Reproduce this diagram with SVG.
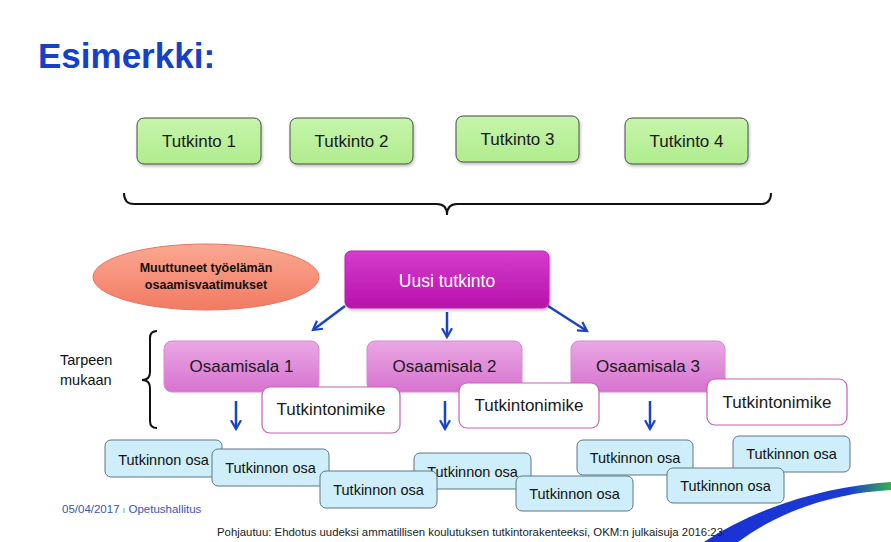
<svg xmlns="http://www.w3.org/2000/svg" width="891" height="542" viewBox="0 0 891 542">
<defs>
<linearGradient id="gGreen" x1="0" y1="0" x2="0" y2="1"><stop offset="0" stop-color="#c6f5ab"/><stop offset="1" stop-color="#b0ec8e"/></linearGradient>
<linearGradient id="gSalmon" x1="0" y1="0" x2="0" y2="1"><stop offset="0" stop-color="#fba892"/><stop offset="1" stop-color="#f27a62"/></linearGradient>
<linearGradient id="gMag" x1="0" y1="0" x2="0" y2="1"><stop offset="0" stop-color="#d43ccc"/><stop offset="1" stop-color="#b812ac"/></linearGradient>
<linearGradient id="gPink" x1="0" y1="0" x2="0" y2="1"><stop offset="0" stop-color="#eaa8e4"/><stop offset="1" stop-color="#d672cf"/></linearGradient>
<linearGradient id="gSwoosh" x1="700" y1="0" x2="891" y2="0" gradientUnits="userSpaceOnUse"><stop offset="0" stop-color="#1a30d4"/><stop offset="0.78" stop-color="#1a3cd4"/><stop offset="1" stop-color="#36b04a"/></linearGradient>
<filter id="sh" x="-10%" y="-10%" width="130%" height="140%"><feDropShadow dx="1" dy="2" stdDeviation="1.5" flood-color="#000" flood-opacity="0.25"/></filter>
<marker id="arr" viewBox="0 0 10 10" refX="8" refY="5" markerWidth="5" markerHeight="5" orient="auto" markerUnits="strokeWidth"><path d="M1,1 L8,5 L1,9" fill="none" stroke="#1a44c8" stroke-width="1.8"/></marker>
</defs>
<style>
text{font-family:"Liberation Sans",Arial,sans-serif;}
.green{fill:url(#gGreen);stroke:#4a4a4a;stroke-width:1;filter:url(#sh);}
.pink{fill:url(#gPink);stroke:#d888d2;stroke-width:1;}
.nim{fill:#fff;stroke:#c460bc;stroke-width:1.2;}
.osa{fill:#cdeefa;stroke:#5e7680;stroke-width:1;}
.lbl{font-size:17px;fill:#1a1a1a;text-anchor:middle;}
.olbl{font-size:14.5px;fill:#111;text-anchor:middle;}
.conn{stroke:#1a44c8;stroke-width:2.5;fill:none;marker-end:url(#arr);}
.brace{stroke:#111;stroke-width:2;fill:none;}
</style>
<rect width="891" height="542" fill="#fff"/>
<text x="38" y="68" font-size="35" font-weight="bold" fill="#1540c8">Esimerkki:</text>

<g id="tutkinto1"><rect class="green" x="137" y="118" width="124" height="46" rx="7"/><text class="lbl" x="199" y="147">Tutkinto 1</text></g>
<g id="tutkinto2"><rect class="green" x="290" y="118" width="123" height="46" rx="7"/><text class="lbl" x="351.5" y="147">Tutkinto 2</text></g>
<g id="tutkinto3"><rect class="green" x="456" y="116" width="123" height="46" rx="7"/><text class="lbl" x="517.5" y="145">Tutkinto 3</text></g>
<g id="tutkinto4"><rect class="green" x="625" y="118" width="123" height="46" rx="7"/><text class="lbl" x="686.5" y="147">Tutkinto 4</text></g>

<g id="brace-top"><path class="brace" d="M124,193 Q124,204 134,204 L437,204 Q447,204 447,215 Q447,204 457,204 L761,204 Q771,204 771,193"/></g>
<g id="brace-left"><path class="brace" d="M157,331 Q150,331 150,338 L150,372 Q150,380 142,380 Q150,380 150,388 L150,421 Q150,428 157,428"/>
<text x="60" y="365" font-size="14.5" fill="#111">Tarpeen</text><text x="60" y="385" font-size="14.5" fill="#111">mukaan</text></g>

<g id="muutos"><ellipse cx="206" cy="277" rx="113" ry="33" fill="url(#gSalmon)" stroke="#e87560" stroke-width="1"/>
<text x="206" y="272" font-size="12.5" font-weight="bold" fill="#111" text-anchor="middle">Muuttuneet työelämän</text>
<text x="206" y="289" font-size="12.5" font-weight="bold" fill="#111" text-anchor="middle">osaamisvaatimukset</text></g>

<g id="connectors">
<line class="conn" x1="345" y1="306" x2="313" y2="330"/>
<line class="conn" x1="447" y1="312" x2="447" y2="337"/>
<line class="conn" x1="548" y1="306" x2="587" y2="331"/>
<line class="conn" x1="236" y1="401" x2="236" y2="429"/>
<line class="conn" x1="445" y1="401" x2="445" y2="429"/>
<line class="conn" x1="650" y1="401" x2="650" y2="429"/>
</g>

<g id="uusi"><rect x="345" y="251" width="204" height="57" rx="6" fill="url(#gMag)" stroke="#c020b4" filter="url(#sh)"/><text x="447" y="287" font-size="17.5" fill="#fff" text-anchor="middle">Uusi tutkinto</text></g>

<g id="osaamisala1"><rect class="pink" x="164" y="341" width="155" height="51" rx="8"/><text class="lbl" x="241.5" y="372" font-size="16">Osaamisala 1</text></g>
<g id="osaamisala2"><rect class="pink" x="367" y="341" width="155" height="51" rx="8"/><text class="lbl" x="444.5" y="372" font-size="16">Osaamisala 2</text></g>
<g id="osaamisala3"><rect class="pink" x="571" y="341" width="154" height="51" rx="8"/><text class="lbl" x="648" y="372" font-size="16">Osaamisala 3</text></g>

<g id="nimike1"><rect class="nim" x="262" y="387" width="138" height="46" rx="8"/><text class="lbl" x="331" y="415">Tutkintonimike</text></g>
<g id="nimike2"><rect class="nim" x="459" y="383" width="140" height="45" rx="8"/><text class="lbl" x="529" y="411">Tutkintonimike</text></g>
<g id="nimike3"><rect class="nim" x="707" y="379" width="140" height="46" rx="8"/><text class="lbl" x="777" y="408">Tutkintonimike</text></g>

<g id="osa-a"><rect class="osa" x="105" y="440" width="117" height="37" rx="6"/><text class="olbl" x="163.5" y="465">Tutkinnon osa</text></g>
<g id="osa-b"><rect class="osa" x="212" y="449" width="117" height="37" rx="6"/><text class="olbl" x="270.5" y="473">Tutkinnon osa</text></g>
<g id="osa-d"><rect class="osa" x="414" y="453" width="117" height="36" rx="6"/><text class="olbl" x="472.5" y="477">Tutkinnon osa</text></g>
<g id="osa-c"><rect class="osa" x="320" y="471" width="117" height="37" rx="6"/><text class="olbl" x="378.5" y="495">Tutkinnon osa</text></g>
<g id="osa-e"><rect class="osa" x="516" y="476" width="117" height="35" rx="6"/><text class="olbl" x="574.5" y="499">Tutkinnon osa</text></g>
<g id="osa-f"><rect class="osa" x="577" y="440" width="116" height="35" rx="6"/><text class="olbl" x="635" y="463">Tutkinnon osa</text></g>
<g id="osa-h"><rect class="osa" x="733" y="436" width="117" height="36" rx="6"/><text class="olbl" x="791.5" y="459">Tutkinnon osa</text></g>
<g id="osa-g"><rect class="osa" x="667" y="468" width="117" height="35" rx="6"/><text class="olbl" x="725.5" y="491">Tutkinnon osa</text></g>

<path d="M704,542 C760,505 830,486 891,482 L891,490 C832,493 778,512 738,542 Z" fill="url(#gSwoosh)"/>

<text x="62" y="513" font-size="11.5" fill="#3a55b8">05/04/2017 <tspan fill="#6aa84f" font-size="9">ı</tspan> Opetushallitus</text>
<text x="217" y="536" font-size="11.5" fill="#222" textLength="506" lengthAdjust="spacingAndGlyphs">Pohjautuu: Ehdotus uudeksi ammatillisen koulutuksen tutkintorakenteeksi, OKM:n julkaisuja 2016:23</text>
</svg>
